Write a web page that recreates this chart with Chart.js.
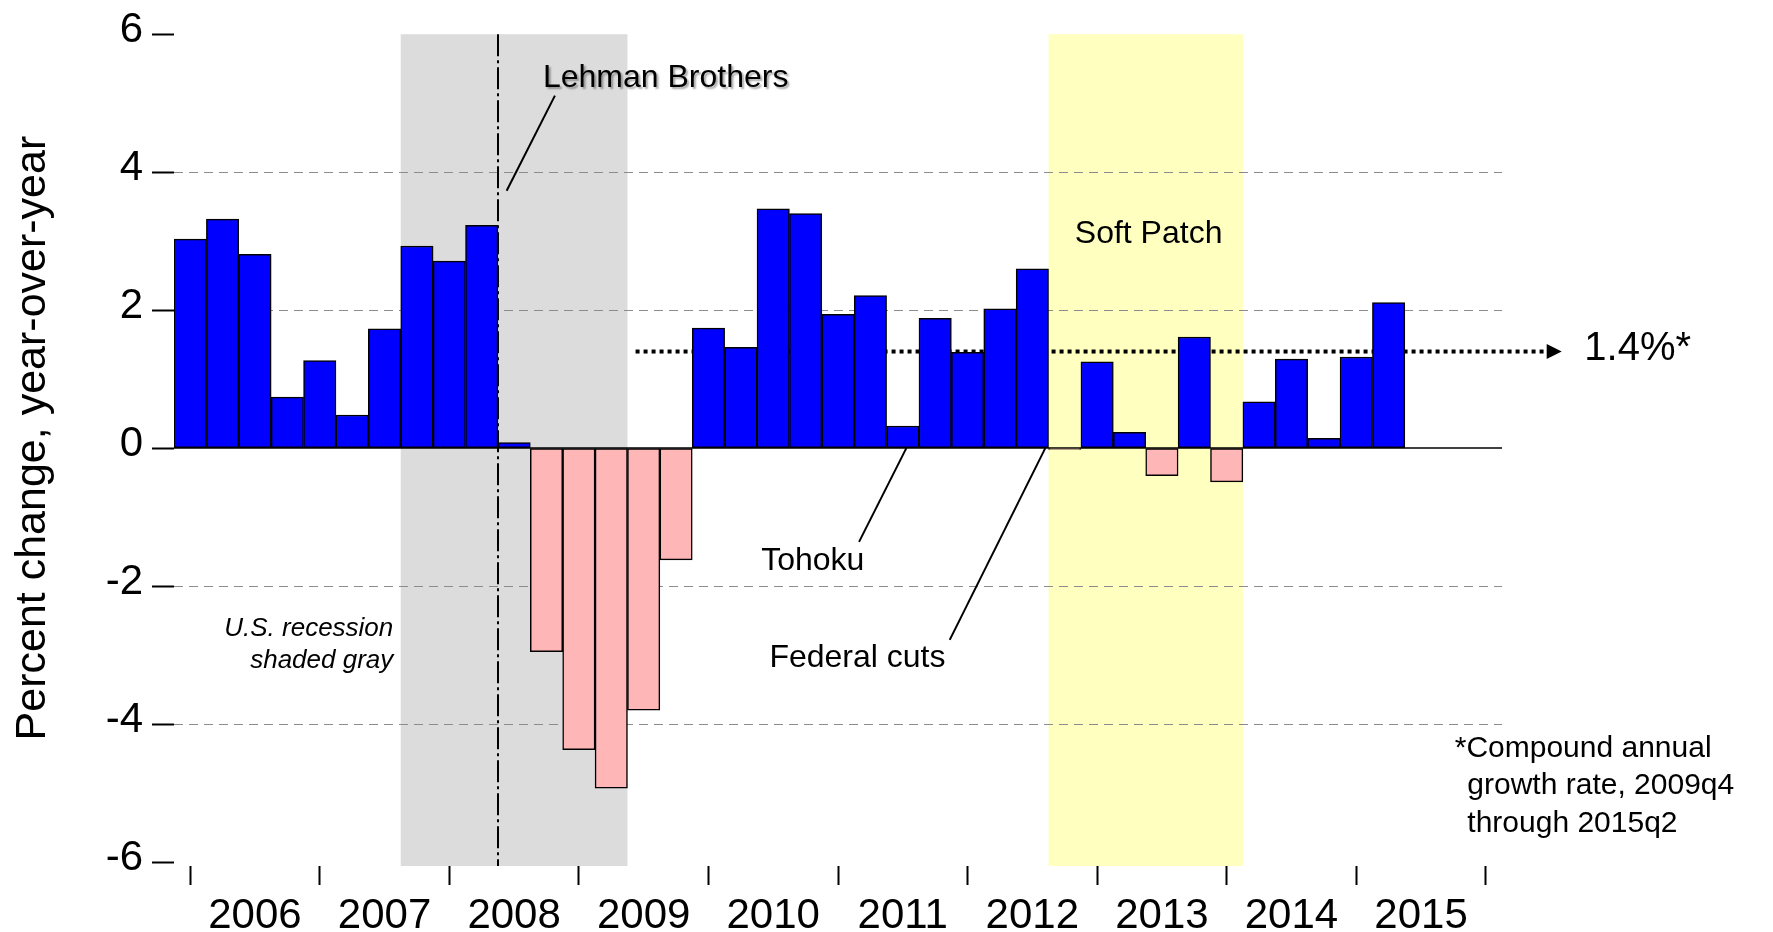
<!DOCTYPE html>
<html><head><meta charset="utf-8">
<script src="https://cdn.jsdelivr.net/npm/chart.js@4.4.1/dist/chart.umd.min.js"></script>
<style>
html, body { margin: 0; padding: 0; background: #fff; }
#wrap { position: relative; width: 1773px; height: 932px; }
</style>
</head>
<body>
<div id="wrap"><canvas id="myChart"></canvas></div>
<script>
// real GDP, percent change year-over-year, 2006q1 .. 2015q2
var quarters = ['2006q1','2006q2','2006q3','2006q4','2007q1','2007q2','2007q3','2007q4',
                '2008q1','2008q2','2008q3','2008q4','2009q1','2009q2','2009q3','2009q4',
                '2010q1','2010q2','2010q3','2010q4','2011q1','2011q2','2011q3','2011q4',
                '2012q1','2012q2','2012q3','2012q4','2013q1','2013q2','2013q3','2013q4',
                '2014q1','2014q2','2014q3','2014q4','2015q1','2015q2'];
var growth = [3.03, 3.32, 2.81, 0.74, 1.27, 0.48, 1.73, 2.93,
              2.71, 3.23, 0.08, -2.95, -4.37, -4.93, -3.80, -1.62,
              1.74, 1.46, 3.47, 3.40, 1.94, 2.21, 0.32, 1.88,
              1.39, 2.02, 2.60, -0.02, 1.25, 0.23, -0.40, 1.61,
              -0.49, 0.67, 1.29, 0.14, 1.32, 2.11];
var years = ['2006','2007','2008','2009','2010','2011','2012','2013','2014','2015'];
var yTicks = [-6, -4, -2, 0, 2, 4, 6];
var cagr = 1.4;                       // 2009q4 through 2015q2
var recession = ['2007q4', '2009q2'];
var softPatch = ['2012q4', '2014q1'];
var lehman = '2008q3';

// layout bits (x in quarter units, y in percent)
var arrowStart = 13.75, arrowEnd = 41.88;
var FONT = '"Liberation Sans", Arial, sans-serif';
Chart.defaults.font.family = FONT;

function qx(q) { return quarters.indexOf(q); }

var overlay = {
  id: 'overlay',
  beforeDraw: function (chart) {
    var ctx = chart.ctx, a = chart.chartArea, xs = chart.scales.x;
    function band(p, color) {
      var x1 = xs.getPixelForValue(qx(p[0]) - 0.5), x2 = xs.getPixelForValue(qx(p[1]) + 0.5);
      ctx.fillStyle = color;
      ctx.fillRect(x1, a.top, x2 - x1, a.bottom - a.top + 4);
    }
    ctx.save();
    band(recession, '#dcdcdc');
    band(softPatch, '#ffffc0');
    // y axis title
    ctx.translate(33, (a.top + a.bottom) / 2 - 10);
    ctx.rotate(-Math.PI / 2);
    ctx.font = '43px ' + FONT;
    ctx.fillStyle = '#000';
    ctx.textAlign = 'center';
    ctx.textBaseline = 'middle';
    ctx.fillText('Percent change, year-over-year', 0, 0);
    ctx.restore();
  },
  beforeDatasetsDraw: function (chart) {
    var ctx = chart.ctx, a = chart.chartArea, xs = chart.scales.x, ys = chart.scales.y;
    ctx.save();
    var y0 = ys.getPixelForValue(0);
    ctx.strokeStyle = '#000';
    ctx.lineWidth = 1.5;
    ctx.beginPath(); ctx.moveTo(a.left, y0); ctx.lineTo(a.right, y0); ctx.stroke();
    var lx = Math.round(xs.getPixelForValue(qx(lehman) - 0.5));
    ctx.lineWidth = 2;
    ctx.setLineDash([22, 4, 3, 4]);
    ctx.beginPath(); ctx.moveTo(lx, a.top); ctx.lineTo(lx, a.bottom + 4); ctx.stroke();
    ctx.restore();
  },
  afterDatasetsDraw: function (chart) {
    var ctx = chart.ctx, xs = chart.scales.x, ys = chart.scales.y;
    function X(v) { return xs.getPixelForValue(v); }
    function Y(v) { return ys.getPixelForValue(v); }
    function text(s, x, y, size, align, style) {
      ctx.font = (style || '') + ' ' + size + 'px ' + FONT;
      ctx.textAlign = align;
      ctx.textBaseline = 'middle';
      ctx.fillStyle = '#000';
      ctx.fillText(s, X(x), Y(y));
    }
    function pointer(x1, y1, x2, y2) {
      ctx.strokeStyle = '#000';
      ctx.lineWidth = 2;
      ctx.beginPath(); ctx.moveTo(X(x1), Y(y1)); ctx.lineTo(X(x2), Y(y2)); ctx.stroke();
    }
    // arrow head at the end of the growth-rate line
    var end = chart.getDatasetMeta(1).data[1];
    ctx.save();
    ctx.fillStyle = '#000';
    ctx.beginPath();
    ctx.moveTo(end.x, end.y - 7.5);
    ctx.lineTo(end.x + 15, end.y);
    ctx.lineTo(end.x, end.y + 7.5);
    ctx.closePath();
    ctx.fill();
    ctx.restore();

    ctx.save();
    ctx.shadowColor = 'rgba(0,0,0,0.35)';
    ctx.shadowOffsetX = 2; ctx.shadowOffsetY = 2; ctx.shadowBlur = 2;
    text('Lehman Brothers', 10.89, 5.36, 32, 'left');
    ctx.restore();
    ctx.save();
    pointer(11.26, 5.11, 9.77, 3.73);
    text('Soft Patch', 29.59, 3.10, 32, 'center');
    text('Tohoku', 19.22, -1.64, 32, 'center');
    pointer(22.11, 0.0, 20.65, -1.36);
    text('Federal cuts', 20.6, -3.04, 32, 'center');
    pointer(26.4, 0.0, 23.45, -2.78);
    text('U.S. recession', 6.27, -2.62, 26, 'right', 'italic');
    text('shaded gray', 6.27, -3.08, 26, 'right', 'italic');
    text('1.4%*', 43.04, 1.44, 40, 'left');
    text('*Compound annual', 39.04, -4.36, 30, 'left');
    text('growth rate, 2009q4', 39.43, -4.89, 30, 'left');
    text('through 2015q2', 39.43, -5.44, 30, 'left');
    ctx.restore();
  }
};

var ctx = document.getElementById('myChart');
var myChart = new Chart(ctx, {
  type: 'bar',
  data: {
    datasets: [{
      type: 'bar',
      label: 'Real GDP',
      data: growth.map(function (v, i) { return {x: i, y: v}; }),
      backgroundColor: growth.map(function (v) { return v < 0 ? '#ffb6b6' : '#0000ff'; }),
      borderColor: '#000',
      borderWidth: 1.5,
      borderSkipped: false,
      barPercentage: 1,
      categoryPercentage: 1,
      order: 1
    }, {
      type: 'line',
      label: 'Compound annual growth',
      data: [{x: arrowStart, y: cagr}, {x: arrowEnd, y: cagr}],
      borderColor: '#000',
      borderWidth: 4,
      borderDash: [4, 4],
      pointRadius: 0,
      clip: false,
      order: 2
    }]
  },
  options: {
    responsive: true,
    maintainAspectRatio: false,
    animation: false,
    layout: { padding: { top: 31, right: 271, bottom: 0, left: 0 } },
    plugins: { legend: { display: false }, tooltip: { enabled: false } },
    scales: {
      x: {
        type: 'linear',
        min: -0.5, max: 40.5,
        offset: false,
        afterBuildTicks: function (s) {
          var t = [];
          for (var v = 0; v <= 40; v += 2) t.push({ value: v });
          s.ticks = t;
        },
        afterFit: function (s) { s.height = 70; },
        border: { display: false },
        grid: {
          offset: false,
          drawOnChartArea: false,
          tickLength: 23,
          tickWidth: 2,
          tickBorderDash: [0, 4, 19, 40],
          tickColor: function (c) { return c.tick && c.tick.value % 4 === 0 ? '#000' : 'rgba(0,0,0,0)'; }
        },
        ticks: {
          autoSkip: false, maxRotation: 0, padding: 6, color: '#000',
          font: { size: 42 },
          callback: function (v) { return v % 4 === 2 ? years[(v - 2) / 4] : ''; }
        }
      },
      y: {
        min: -6, max: 6,
        afterBuildTicks: function (s) { s.ticks = yTicks.map(function (v) { return { value: v }; }); },
        afterFit: function (s) { s.width = 174; },
        border: { display: false, dash: [9, 6] },
        grid: {
          color: function (c) {
            var v = c.tick ? c.tick.value : 0;
            return (v === 0 || Math.abs(v) === 6) ? 'rgba(0,0,0,0)' : '#8c8c8c';
          },
          lineWidth: 1,
          tickLength: 22,
          tickWidth: 2,
          tickColor: '#000',
          tickBorderDash: []
        },
        ticks: { padding: 9, labelOffset: -4, color: '#000', font: { size: 42 } }
      }
    }
  },
  plugins: [overlay]
});
</script>
</body></html>
